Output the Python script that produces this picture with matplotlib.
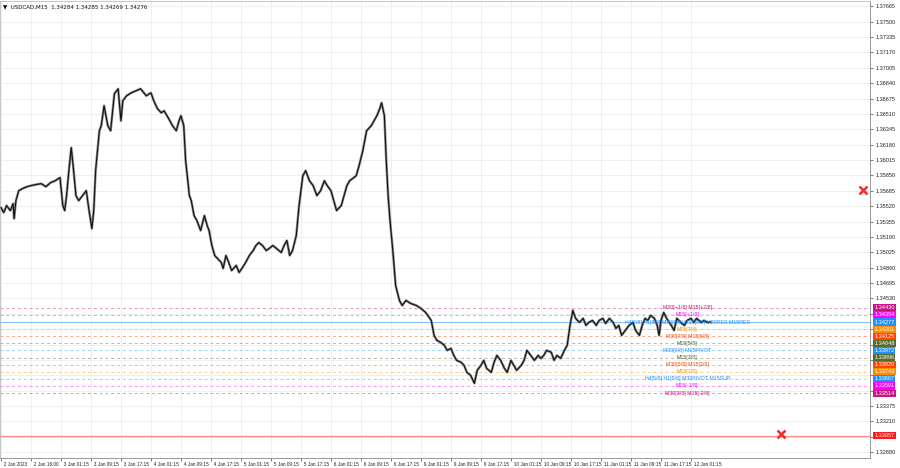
import matplotlib.pyplot as plt
from matplotlib.transforms import blended_transform_factory

plt.rcParams['font.family'] = ['Liberation Sans', 'DejaVu Sans']

# USDCAD M15 closes (bar index, price)
bars = [0, 3, 6, 10, 13, 14, 16, 19, 23, 28, 32, 37, 43, 48, 53, 58, 63, 66, 68, 70,
        73, 75, 77, 80, 83, 87, 91, 94, 97, 99, 101, 105, 107, 110, 114, 117, 121, 125, 128, 130,
        134, 139, 144, 149, 155, 160, 163, 167, 171, 174, 179, 183, 187, 190, 192, 195, 197, 201, 203, 206,
        209, 213, 217, 220, 222, 225, 228, 231, 235, 237, 240, 243, 246, 251, 254, 257, 261, 265, 269, 272,
        275, 279, 283, 286, 290, 294, 299, 302, 305, 308, 311, 315, 318, 322, 325, 329, 333, 337, 341, 345,
        348, 352, 355, 358, 363, 366, 369, 372, 375, 379, 382, 386, 390, 395, 398, 401, 404, 406, 409, 411,
        413, 415, 418, 421, 425, 428, 432, 437, 443, 448, 453, 459, 462, 465, 469, 473, 476, 480, 483, 486,
        491, 494, 497, 501, 505, 508, 512, 515, 518, 523, 526, 529, 533, 537, 540, 544, 547, 550, 555, 558,
        561, 565, 569, 573, 576, 579, 582, 587, 590, 593, 597, 601, 604, 607, 610, 613, 617, 621, 624, 627,
        631, 635, 638, 642, 645, 649, 653, 656, 659, 662, 666, 670, 674, 677, 681, 684, 687, 690, 693, 697,
        700, 702, 704, 707, 710, 715, 718, 721, 725, 729, 732, 736, 739, 742, 747, 750, 753, 757]
close = [1.35505, 1.35452, 1.35527, 1.35473, 1.35548, 1.35387, 1.35580, 1.35687, 1.35709, 1.35730,
         1.35741, 1.35752, 1.35762, 1.35730, 1.35773, 1.35794, 1.35827, 1.35527, 1.35473, 1.35634,
         1.35955, 1.36148, 1.35955, 1.35634, 1.35580, 1.35634, 1.35687, 1.35473, 1.35280, 1.35473,
         1.35902, 1.36330, 1.36384, 1.36598, 1.36384, 1.36330, 1.36727, 1.36780, 1.36437, 1.36652,
         1.36705, 1.36737, 1.36759, 1.36780, 1.36705, 1.36737, 1.36652, 1.36566, 1.36523, 1.36544,
         1.36459, 1.36384, 1.36330, 1.36437, 1.36491, 1.36384, 1.36009, 1.35634, 1.35580, 1.35419,
         1.35366, 1.35259, 1.35419, 1.35312, 1.35259, 1.35098, 1.34991, 1.34959, 1.34916, 1.34852,
         1.34991, 1.34916, 1.34830, 1.34884, 1.34809, 1.34852, 1.34916, 1.34991, 1.35044, 1.35098,
         1.35130, 1.35098, 1.35044, 1.35066, 1.35098, 1.35066, 1.35023, 1.35098, 1.35152, 1.34991,
         1.35044, 1.35205, 1.35527, 1.35848, 1.35902, 1.35794, 1.35741, 1.35634, 1.35687, 1.35794,
         1.35741, 1.35687, 1.35580, 1.35473, 1.35527, 1.35634, 1.35741, 1.35794, 1.35816, 1.35848,
         1.35955, 1.36116, 1.36330, 1.36384, 1.36437, 1.36491, 1.36566, 1.36630, 1.36491, 1.36009,
         1.35634, 1.35366, 1.35044, 1.34669, 1.34509, 1.34455, 1.34509, 1.34477, 1.34455, 1.34423,
         1.34380, 1.34294, 1.34134, 1.34080, 1.34059, 1.34027, 1.33973, 1.33994, 1.33919, 1.33866,
         1.33844, 1.33812, 1.33737, 1.33705, 1.33619, 1.33759, 1.33812, 1.33866, 1.33780, 1.33737,
         1.33844, 1.33919, 1.33866, 1.33780, 1.33737, 1.33866, 1.33812, 1.33759, 1.33812, 1.33866,
         1.33973, 1.33919, 1.33866, 1.33919, 1.33887, 1.33919, 1.33973, 1.33952, 1.33866, 1.33919,
         1.33887, 1.33973, 1.34027, 1.34241, 1.34402, 1.34316, 1.34273, 1.34316, 1.34241, 1.34273,
         1.34294, 1.34241, 1.34294, 1.34316, 1.34262, 1.34316, 1.34273, 1.34209, 1.34241, 1.34134,
         1.34187, 1.34241, 1.34273, 1.34187, 1.34134, 1.34241, 1.34316, 1.34294, 1.34348, 1.34316,
         1.34241, 1.34134, 1.34294, 1.34380, 1.34316, 1.34241, 1.34187, 1.34316, 1.34273, 1.34241,
         1.34294, 1.34316, 1.34273, 1.34316, 1.34273, 1.34294, 1.34273, 1.34276]

date_labels = ['2 Jan 2023', '2 Jan 16:00', '3 Jan 01:15', '3 Jan 09:15', '3 Jan 17:15',
               '4 Jan 01:15', '4 Jan 09:15', '4 Jan 17:15', '5 Jan 01:15', '5 Jan 09:15',
               '5 Jan 17:15', '6 Jan 01:15', '6 Jan 09:15', '6 Jan 17:15', '9 Jan 01:15',
               '9 Jan 09:15', '9 Jan 17:15', '10 Jan 01:15', '10 Jan 09:15', '10 Jan 17:15',
               '11 Jan 01:15', '11 Jan 09:15', '11 Jan 17:15', '12 Jan 01:15']
date_bars = [0, 32, 64, 96, 128, 160, 192, 224, 256, 288, 320, 352, 384, 416, 448,
             480, 512, 544, 576, 608, 640, 672, 704, 736]

price_ticks = [1.37665, 1.37500, 1.37335, 1.37170, 1.37005, 1.36840, 1.36675, 1.36510,
               1.36345, 1.36180, 1.36015, 1.35850, 1.35685, 1.35520, 1.35355, 1.35190,
               1.35025, 1.34860, 1.34695, 1.34530, 1.34365, 1.34200, 1.34035, 1.33870,
               1.33705, 1.33540, 1.33375, 1.33210, 1.33045, 1.32880]
hidden_ticks = [1.34365, 1.34200, 1.34035, 1.33870, 1.33705, 1.33540, 1.33045]

# Murrey-style levels drawn by the indicator
level_vals = [1.34430, 1.34354, 1.34277, 1.34201, 1.34125, 1.34048, 1.33972,
              1.33896, 1.33820, 1.33743, 1.33667, 1.33591, 1.33514]
level_text = ['M30[+1/8] M15[+2/8]', 'M15[+1/8]',
              'H4[7/8] H1[8/8] M30[8/8] M15[8/8] M30RES M15RES', 'M15[7/8]',
              'M30[7/8] M15[6/8]', 'M15[5/8]', 'M30[6/8] M15PIVOT', 'M15[3/8]',
              'M30[5/8] M15[2/8]', 'M15[1/8]', 'H4[5/8] H1[5/8] M30PIVOT M15SUP',
              'M15[-1/8]', 'M30[3/8] M15[-2/8]']
level_colors = ['#c71585', '#ff00ff', '#1e90ff', '#ff8c00', '#ff4500', '#556b2f', '#1e90ff',
                '#556b2f', '#ff4500', '#ff8c00', '#1e90ff', '#ff00ff', '#c71585']
level_styles = ['--', '--', '-', '--', '--', '--', '--', '--', '--', '--', '--', '--', '--']

stop_level = 1.33057
marks_bar = [919, 832]
marks_price = [1.35698, 1.33073]

fig = plt.figure(figsize=(9, 4.68), dpi=100)
ax = fig.add_axes([0.0, 0.021, 0.9667, 0.977])
ax.set_xlim(-1, 927)
ax.set_ylim(1.32816, 1.37723)

ax.set_xticks(date_bars)
ax.set_xticklabels(['  ' + d for d in date_labels], fontsize=3.4, ha='left')
ax.set_yticks(price_ticks)
ax.set_yticklabels(['' if p in hidden_ticks else f'{p:.5f}' for p in price_ticks], fontsize=4)
ax.yaxis.tick_right()
ax.tick_params(axis='x', length=2, pad=1, width=0.5, colors='#444444', labelcolor='#222222')
ax.tick_params(axis='y', length=2, pad=2, width=0.5, colors='#444444', labelcolor='#222222')
ax.grid(True, color='#ececec', lw=0.6)
ax.set_axisbelow(True)
for side in ['top', 'left']:
    ax.spines[side].set_color('#bbbbbb')
    ax.spines[side].set_linewidth(0.6)
for side in ['right', 'bottom']:
    ax.spines[side].set_color('#888888')
    ax.spines[side].set_linewidth(0.6)

trans = blended_transform_factory(ax.transAxes, ax.transData)

for val, col, ls in zip(level_vals, level_colors, level_styles):
    if ls == '-':
        ax.axhline(val, color=col, lw=0.8, alpha=0.55, zorder=1)
    else:
        ax.axhline(val, color=col, lw=0.7, ls=(0, (3, 3)), alpha=0.45, zorder=1)

ax.axhline(stop_level, color='#ff8a8a', lw=0.9, zorder=1)

# price
ax.plot(bars, close, color='#8c8c8c', lw=1.8, zorder=2)
ax.plot(bars, close, color='#111111', lw=0.8, zorder=3)

for val, col, txt in zip(level_vals, level_colors, level_text):
    ax.text(732, val, txt, color=col, fontsize=3.8, ha='center', va='center', zorder=4)
    ax.text(1.005, val, f'{val:.5f}', transform=trans, color='white', fontsize=4,
            ha='left', va='center', zorder=6, clip_on=False,
            bbox=dict(boxstyle='square,pad=0.2', fc=col, ec='none'))

ax.text(1.005, stop_level, f'{stop_level:.5f}', transform=trans, color='white', fontsize=4,
        ha='left', va='center', zorder=6, clip_on=False,
        bbox=dict(boxstyle='square,pad=0.2', fc='#ff1a1a', ec='none'))

ax.plot(marks_bar, marks_price, 'x', color='#e8312a', ms=6, mew=1.8, zorder=5, clip_on=False)

ax.text(0.003, 0.993, '\u25BC  USDCAD,M15  1.34284 1.34285 1.34269 1.34276', transform=ax.transAxes,
        fontsize=4, ha='left', va='top', color='#111111', family=['DejaVu Sans'])

fig.savefig('out.png', dpi=100, facecolor='white')
